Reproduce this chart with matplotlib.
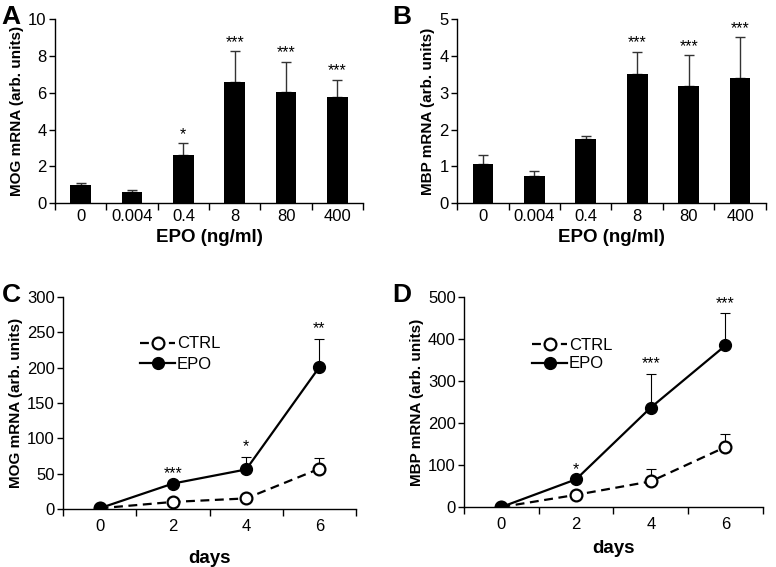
import numpy as np
import matplotlib
matplotlib.use('Agg')
import matplotlib.pyplot as plt

plt.rcParams['font.family'] = ['Liberation Sans', 'DejaVu Sans']

# Panel A / B: dose response
doses = ['0', '0.004', '0.4', '8', '80', '400']
mog_dose = [0.97, 0.58, 2.6, 6.58, 6.05, 5.78]
mog_dose_err = [0.1, 0.12, 0.66, 1.7, 1.65, 0.94]
mog_dose_sig = ['', '', '*', '***', '***', '***']
mbp_dose = [1.07, 0.74, 1.74, 3.5, 3.18, 3.4]
mbp_dose_err = [0.24, 0.14, 0.09, 0.62, 0.85, 1.12]
mbp_dose_sig = ['', '', '', '***', '***', '***']

# Panel C / D: time course
days = [0, 2, 4, 6]
mog_ctrl = [1, 10, 15, 57]
mog_ctrl_err = [0, 0, 5, 15]
mog_epo = [1, 36, 56, 201]
mog_epo_err = [0, 0, 18, 40]
mog_time_sig = ['', '***', '*', '**']
mbp_ctrl = [0, 29, 61, 143]
mbp_ctrl_err = [0, 0, 30, 32]
mbp_epo = [0, 66, 237, 385]
mbp_epo_err = [0, 0, 81, 77]
mbp_time_sig = ['', '*', '***', '***']

fig = plt.figure(figsize=(7.76, 5.67), dpi=100)

TICK = 12
LAB = 13.5


def style(ax):
    for s in ['top', 'right']:
        ax.spines[s].set_visible(False)
    ax.spines['left'].set_linewidth(1.0)
    ax.spines['bottom'].set_linewidth(1.0)
    ax.tick_params(axis='both', which='both', labelsize=TICK, direction='out',
                   length=4, width=1)
    ax.tick_params(axis='y', pad=2)


def bar_panel(rect, vals, errs, sigs, ymax, ystep, ylabel, sig_off):
    ax = fig.add_axes(rect)
    x = np.arange(len(vals))
    ax.bar(x, vals, width=0.4, color='black', zorder=2)
    ax.errorbar(x, vals, yerr=[np.zeros(len(errs)), errs], fmt='none',
                ecolor='#333333', elinewidth=1, capsize=3.5, capthick=1, zorder=1)
    for xi, v, e, s in zip(x, vals, errs, sigs):
        if s:
            ax.text(xi, v + e + sig_off, s, ha='center', va='bottom', fontsize=11.5)
    ax.set_xlim(-0.5, len(vals) - 0.5)
    ax.set_ylim(0, ymax)
    ax.set_yticks(np.arange(0, ymax + 0.01, ystep))
    ax.set_xticks(np.arange(-0.5, len(vals), 1.0))
    ax.set_xticklabels([])
    ax.set_xticks(x, minor=True)
    ax.set_xticklabels(doses, minor=True)
    style(ax)
    ax.tick_params(axis='x', which='minor', length=0, pad=4)
    ax.tick_params(axis='x', which='major', length=5)
    ax.set_xlabel('EPO (ng/ml)', fontsize=LAB, fontweight='bold', labelpad=4)
    ax.set_ylabel(ylabel, fontsize=11, fontweight='bold', labelpad=3)
    return ax


def line_panel(rect, ctrl, ctrl_err, epo, epo_err, sigs, ymax, ystep, ylabel,
               sig_off, leg_pos, spacing):
    ax = fig.add_axes(rect)
    ax.errorbar(days, ctrl, yerr=[np.zeros(4), ctrl_err], fmt='none', ecolor='black',
                elinewidth=0.8, capsize=3.5, capthick=0.8, zorder=1)
    ax.errorbar(days, epo, yerr=[np.zeros(4), epo_err], fmt='none', ecolor='black',
                elinewidth=0.8, capsize=3.5, capthick=0.8, zorder=1)
    ax.plot(days, ctrl, '--o', color='black', lw=1.6, ms=8.5, mfc='white',
            mec='black', mew=1.6, label='CTRL', zorder=3, dashes=(4, 2.5))
    ax.plot(days, epo, '-o', color='black', lw=1.6, ms=8.5, mfc='black',
            mec='black', label='EPO', zorder=3)
    for d, v, e, s in zip(days, epo, epo_err, sigs):
        if s:
            ax.text(d, v + e + sig_off, s, ha='center', va='bottom', fontsize=11.5)
    ax.set_xlim(-1, 7)
    ax.set_ylim(0, ymax)
    ax.set_yticks(np.arange(0, ymax + 0.01, ystep))
    ax.set_xticks([-1, 1, 3, 5, 7])
    ax.set_xticklabels([])
    ax.set_xticks(days, minor=True)
    ax.set_xticklabels([str(d) for d in days], minor=True)
    style(ax)
    ax.tick_params(axis='x', which='minor', length=0, pad=7)
    ax.tick_params(axis='x', which='major', length=5)
    ax.set_ylabel(ylabel, fontsize=11, fontweight='bold', labelpad=3)
    ax.legend(loc='center left', bbox_to_anchor=leg_pos, frameon=False,
              fontsize=12, handlelength=2.1, handletextpad=0.1,
              labelspacing=spacing, borderpad=0)
    return ax


axA = bar_panel([0.0709, 0.642, 0.397, 0.324], mog_dose, mog_dose_err, mog_dose_sig,
                10, 2, 'MOG mRNA (arb. units)', 0.05)
axB = bar_panel([0.589, 0.642, 0.398, 0.324], mbp_dose, mbp_dose_err, mbp_dose_sig,
                5, 1, 'MBP mRNA (arb. units)', 0.03)

axC = line_panel([0.0812, 0.1023, 0.3776, 0.3737], mog_ctrl, mog_ctrl_err, mog_epo,
                 mog_epo_err, mog_time_sig, 300, 50, 'MOG mRNA (arb. units)', 4,
                 (0.235, 0.73), 0.35)
axC.set_xlabel('days', fontsize=LAB, fontweight='bold', labelpad=12)
axD = line_panel([0.598, 0.1058, 0.385, 0.370], mbp_ctrl, mbp_ctrl_err, mbp_epo,
                 mbp_epo_err, mbp_time_sig, 500, 100, 'MBP mRNA (arb. units)', 6,
                 (0.2, 0.726), 0.2)
axD.set_xlabel('days', fontsize=LAB, fontweight='bold', labelpad=6)

for lbl, (x, y) in zip('ABCD', [(0.002, 0.992), (0.506, 0.992), (0.002, 0.500), (0.506, 0.500)]):
    fig.text(x, y, lbl, fontsize=19, fontweight='bold', ha='left', va='top')

fig.savefig('out.png', dpi=100)
